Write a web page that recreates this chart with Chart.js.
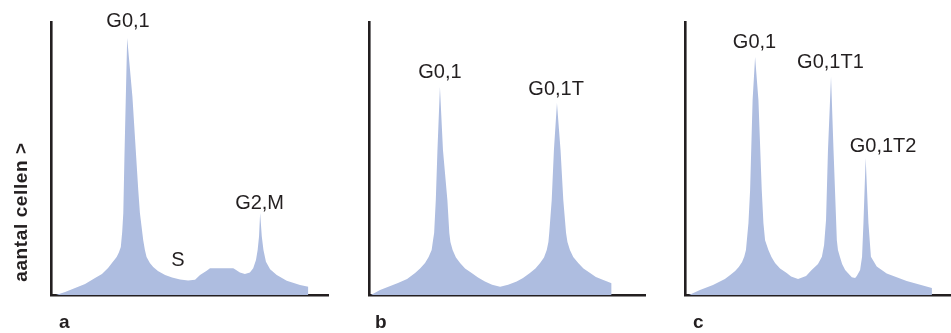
<!DOCTYPE html>
<html>
<head>
<meta charset="utf-8">
<script src="https://cdn.jsdelivr.net/npm/chart.js@4/dist/chart.umd.min.js"></script>
<style>
  body { margin: 0; background: #fff; }
  #wrap { position: relative; width: 951px; height: 333px; overflow: hidden; }
  canvas { position: absolute; top: 0; }
</style>
</head>
<body>
<div id="wrap">
  <canvas id="chartA" width="340" height="333" style="left:0px"></canvas>
  <canvas id="chartB" width="310" height="333" style="left:340px"></canvas>
  <canvas id="chartC" width="301" height="333" style="left:650px"></canvas>
</div>
<script>
// DNA-inhoud (a.u.) en aantal cellen per paneel
const xA = [1.8, 5.1, 8.7, 12.3, 15.9, 18.4, 20.6, 22.0, 23.7, 24.5, 25.2, 25.7, 26.1, 26.5, 27.5, 29.4, 31.5, 32.1, 33.3, 33.9, 34.5, 35.7, 36.9, 38.6, 41.2, 43.7, 46.6, 49.5, 52.0, 53.8, 56.2, 57.4, 65.8, 66.4, 68.2, 70.0, 71.8, 73.0, 74.0, 74.6, 75.1, 75.5, 76.1, 76.7, 77.6, 79.1, 81.5, 85.1, 89.9, 92.9];
const yA = [0, 1.1, 2.6, 4.0, 6.2, 7.7, 9.9, 11.7, 13.9, 15.6, 17.6, 23.1, 30.0, 50.0, 94.1, 72.5, 38.5, 30.0, 20.1, 16.5, 13.9, 11.7, 10.3, 8.8, 7.3, 6.4, 5.7, 5.3, 5.6, 7.3, 8.9, 9.8, 9.8, 9.4, 8.2, 7.7, 8.2, 9.8, 12.8, 16.5, 21.4, 30.0, 21.4, 16.5, 12.2, 9.4, 7.3, 5.2, 3.7, 3.0];

const xB = [0.7, 4.0, 10.5, 13.8, 16.7, 18.5, 20.3, 21.6, 22.7, 23.2, 23.6, 24.2, 24.8, 25.7, 26.8, 28.4, 29.1, 29.5, 30.3, 31.5, 33.0, 34.8, 37.2, 39.5, 42.0, 44.6, 47.5, 50.4, 53.5, 55.8, 58.3, 60.3, 62.0, 63.4, 64.4, 65.0, 65.3, 66.2, 67.0, 68.1, 69.4, 70.4, 71.4, 71.9, 72.8, 74.0, 75.8, 77.7, 80.1, 82.2, 84.9, 87.9];
const yB = [0, 1.8, 4.4, 5.9, 8.1, 9.7, 11.7, 13.9, 16.5, 20.1, 22.7, 34.8, 53.1, 76.2, 53.1, 34.8, 22.7, 19.4, 16.5, 13.7, 11.7, 9.7, 8.1, 6.4, 4.9, 3.8, 3.0, 3.8, 4.9, 6.2, 8.1, 9.7, 11.7, 13.7, 16.5, 19.4, 22.7, 34.8, 53.1, 70.3, 53.1, 34.8, 22.7, 19.4, 16.5, 13.9, 11.7, 9.7, 8.1, 6.6, 5.5, 4.3];

const xC = [1.4, 5.4, 10.1, 14.4, 16.2, 18.1, 19.4, 20.6, 21.4, 22.0, 22.9, 23.5, 24.4, 25.3, 26.5, 27.7, 28.3, 28.9, 30.1, 31.2, 32.5, 34.3, 36.7, 38.3, 40.8, 43.7, 45.7, 48.0, 49.4, 50.2, 50.9, 51.6, 52.7, 53.6, 54.8, 55.2, 55.9, 56.7, 57.8, 60.2, 61.4, 62.0, 63.2, 63.9, 64.4, 65.2, 66.2, 67.1, 69.2, 72.8, 80.0, 89.1];
const yC = [0, 1.8, 3.7, 5.9, 7.2, 8.8, 10.3, 12.1, 14.1, 16.5, 26.4, 38.5, 71.4, 87.2, 71.4, 38.5, 26.4, 20.1, 16.5, 13.9, 11.7, 9.7, 8.1, 6.8, 5.9, 7.0, 9.2, 11.4, 14.0, 18.3, 27.5, 53.1, 79.9, 53.1, 20.1, 16.5, 14.0, 11.4, 9.2, 6.5, 6.2, 7.0, 9.2, 14.0, 26.4, 50.2, 26.4, 14.0, 10.4, 7.9, 5.1, 2.6];

// piek-labels (tekst + plaats in data-eenheden)
const labelsA = [["G0,1", 27.8, 100.7], ["S", 45.8, 13.2], ["G2,M", 75.3, 34.1]];
const labelsB = [["G0,1", 25.7, 82.1], ["G0,1T", 67.8, 75.8]];
const labelsC = [["G0,1", 25.1, 93.0], ["G0,1T1", 52.5, 85.7], ["G0,1T2", 71.5, 55.1]];

const FILL = "#aebde0";
const INK = "#231f20";

// tekent labels boven de pieken, de paneelletter en (optioneel) de y-titel
const textPlugin = {
  id: "peakText",
  afterDraw(chart, args, opts) {
    const ctx = chart.ctx;
    const xs = chart.scales.x, ys = chart.scales.y;
    ctx.save();
    ctx.fillStyle = INK;
    ctx.font = "20px 'Liberation Sans', Arial, sans-serif";
    ctx.textAlign = "center";
    ctx.textBaseline = "alphabetic";
    opts.labels.forEach(([t, x, y]) => {
      ctx.fillText(t, xs.getPixelForValue(x), ys.getPixelForValue(y) + 7.2);
    });
    ctx.font = "bold 19px 'Liberation Sans', Arial, sans-serif";
    ctx.textAlign = "left";
    ctx.fillText(opts.letter, chart.chartArea.left + opts.letterDx, 328);
    if (opts.yTitle) {
      ctx.translate(27, 212);
      ctx.rotate(-Math.PI / 2);
      ctx.textAlign = "center";
      ctx.letterSpacing = "0.6px";
      ctx.font = "bold 19px 'Liberation Sans', Arial, sans-serif";
      ctx.fillText(opts.yTitle, 0, 0);
    }
    ctx.restore();
  }
};

function makeChart(id, xs, ys, xMax, pad, labels, letter, letterDx, yTitle) {
  const points = xs.map((x, i) => ({ x: x, y: ys[i] }));
  return new Chart(document.getElementById(id), {
    type: "line",
    data: {
      datasets: [{
        data: points,
        fill: "origin",
        backgroundColor: FILL,
        borderWidth: 0,
        pointRadius: 0,
        tension: 0
      }]
    },
    options: {
      responsive: false,
      animation: false,
      devicePixelRatio: 1,
      layout: { padding: pad },
      plugins: {
        legend: { display: false },
        tooltip: { enabled: false },
        peakText: { labels: labels, letter: letter, letterDx: letterDx, yTitle: yTitle }
      },
      scales: {
        x: {
          type: "linear", min: 0, max: xMax,
          ticks: { display: false },
          grid: { display: false, drawTicks: false },
          border: { display: true, color: INK, width: 2.6 }
        },
        y: {
          min: 0, max: 100,
          ticks: { display: false },
          grid: { display: false, drawTicks: false },
          border: { display: true, color: INK, width: 2.6 }
        }
      }
    },
    plugins: [textPlugin]
  });
}

makeChart("chartA", xA, yA, 100, { left: 51, right: 12, top: 22, bottom: 38 }, labelsA, "a", 8, "aantal cellen >");
makeChart("chartB", xB, yB, 100, { left: 29, right: 5, top: 22, bottom: 38 }, labelsB, "b", 6, null);
makeChart("chartC", xC, yC, 96, { left: 35, right: 0, top: 22, bottom: 38 }, labelsC, "c", 8, null);
</script>
</body>
</html>
